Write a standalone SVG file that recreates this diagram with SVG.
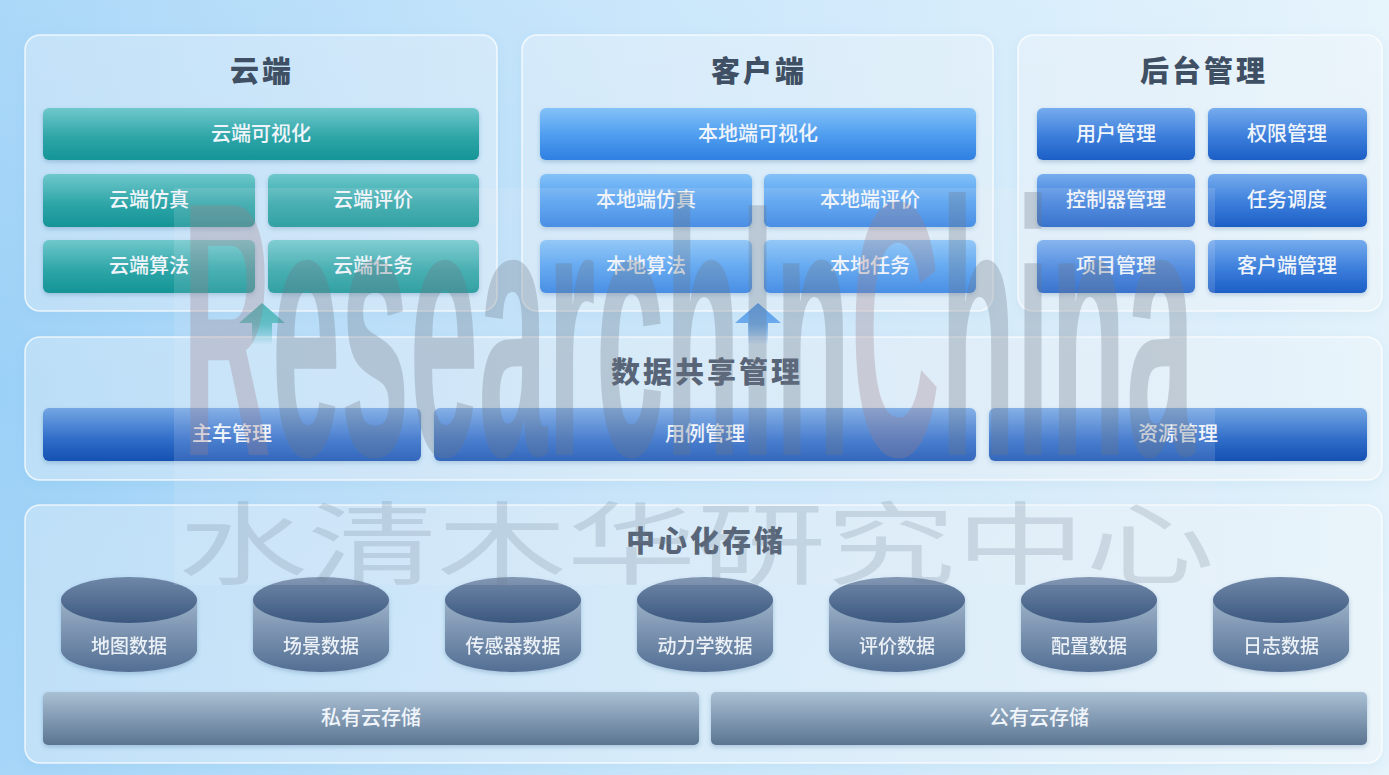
<svg xmlns="http://www.w3.org/2000/svg" width="1389" height="775" viewBox="0 0 1389 775">
<defs>
<linearGradient id="bg" x1="0" y1="0" x2="1" y2="0">
<stop offset="0" stop-color="#9cd1f7"/><stop offset="0.45" stop-color="#c0e2fa"/><stop offset="1" stop-color="#e2f2fb"/>
</linearGradient>
<linearGradient id="bgv" x1="0" y1="0" x2="0" y2="1">
<stop offset="0" stop-color="#ffffff" stop-opacity="0.15"/><stop offset="0.5" stop-color="#ffffff" stop-opacity="0"/><stop offset="1" stop-color="#ffffff" stop-opacity="0.1"/>
</linearGradient>
<linearGradient id="teal" x1="0" y1="0" x2="0" y2="1">
<stop offset="0" stop-color="#6fc8cc"/><stop offset="0.55" stop-color="#2fa6a8"/><stop offset="1" stop-color="#149496"/>
</linearGradient>
<linearGradient id="blue" x1="0" y1="0" x2="0" y2="1">
<stop offset="0" stop-color="#84c2f8"/><stop offset="0.5" stop-color="#519ff0"/><stop offset="1" stop-color="#2e7fe2"/>
</linearGradient>
<linearGradient id="navy" x1="0" y1="0" x2="0" y2="1">
<stop offset="0" stop-color="#76acee"/><stop offset="0.55" stop-color="#3b7ddb"/><stop offset="1" stop-color="#1c5fc6"/>
</linearGradient>
<linearGradient id="share" x1="0" y1="0" x2="0" y2="1">
<stop offset="0" stop-color="#74a6e4"/><stop offset="0.6" stop-color="#2f6cc8"/><stop offset="1" stop-color="#1551b2"/>
</linearGradient>
<linearGradient id="cylTop" x1="0" y1="0" x2="0" y2="1">
<stop offset="0" stop-color="#7088a8"/><stop offset="1" stop-color="#3b577f"/>
</linearGradient>
<linearGradient id="cylBody" x1="0" y1="0" x2="0" y2="1">
<stop offset="0" stop-color="#9cb1c8"/><stop offset="1" stop-color="#526e93"/>
</linearGradient>
<linearGradient id="stor" x1="0" y1="0" x2="0" y2="1">
<stop offset="0" stop-color="#aac0d4"/><stop offset="1" stop-color="#5a7491"/>
</linearGradient>
<linearGradient id="arT" x1="0" y1="0" x2="0" y2="1">
<stop offset="0" stop-color="#35aeb0"/><stop offset="0.5" stop-color="#35aeb0" stop-opacity="0.8"/><stop offset="1" stop-color="#35aeb0" stop-opacity="0"/>
</linearGradient>
<linearGradient id="arB" x1="0" y1="0" x2="0" y2="1">
<stop offset="0" stop-color="#3d8fe8"/><stop offset="0.5" stop-color="#3d8fe8" stop-opacity="0.8"/><stop offset="1" stop-color="#3d8fe8" stop-opacity="0"/>
</linearGradient>
<filter id="sh" x="-10%" y="-20%" width="120%" height="160%">
<feDropShadow dx="0" dy="2" stdDeviation="2" flood-color="#1f4f80" flood-opacity="0.25"/>
</filter>
<filter id="psh" x="-5%" y="-10%" width="110%" height="130%">
<feDropShadow dx="0" dy="3" stdDeviation="5" flood-color="#3a78b0" flood-opacity="0.15"/>
</filter>
</defs>
<style>
.panel{fill:#ffffff;fill-opacity:0.3;stroke:#ffffff;stroke-opacity:0.75;stroke-width:1.5}
.title{font-family:"Noto Sans CJK SC",sans-serif;font-weight:900;font-size:29px;fill:#3f4f64;text-anchor:middle;letter-spacing:3px}
.lbl{font-family:"Noto Sans CJK SC",sans-serif;font-weight:500;font-size:20px;fill:#f0f5fb;text-anchor:middle}
.clbl{font-family:"Noto Sans CJK SC",sans-serif;font-weight:500;font-size:19px;fill:#eaf0f6;text-anchor:middle}
.wm{font-family:"Liberation Sans",sans-serif;font-weight:bold;font-size:363px;fill:#6e7884;fill-opacity:0.3}
.wmc{font-family:"Noto Sans CJK SC",sans-serif;font-weight:400;font-size:90px;fill:#6f7f90;fill-opacity:0.22}
</style>

<rect x="0" y="0" width="1389" height="775" fill="url(#bg)"/>
<rect x="0" y="0" width="1389" height="775" fill="url(#bgv)"/>

<g id="panel-cloud">
<rect class="panel" x="25" y="35" width="472" height="276" rx="15" filter="url(#psh)"/>
<text class="title" x="262" y="82">云端</text>
</g>
<g id="panel-client">
<rect class="panel" x="522" y="35" width="471" height="276" rx="15" filter="url(#psh)"/>
<text class="title" x="759" y="82">客户端</text>
</g>
<g id="panel-backend">
<rect class="panel" x="1018" y="35" width="364" height="276" rx="15" filter="url(#psh)"/>
<text class="title" x="1204" y="82">后台管理</text>
</g>
<g id="panel-share">
<rect class="panel" x="25" y="337" width="1357" height="143" rx="15" filter="url(#psh)"/>
<text class="title" x="707" y="383">数据共享管理</text>
</g>
<g id="panel-storage">
<rect class="panel" x="25" y="505" width="1357" height="258" rx="15" filter="url(#psh)"/>
<text class="title" x="706" y="552">中心化存储</text>
</g>

<g id="cloud-vis"><rect x="43" y="108" width="436" height="52" rx="6" fill="url(#teal)" filter="url(#sh)"/><text class="lbl" x="261" y="141">云端可视化</text></g>
<g id="cloud-sim"><rect x="43" y="174" width="212" height="53" rx="6" fill="url(#teal)" filter="url(#sh)"/><text class="lbl" x="149" y="207">云端仿真</text></g>
<g id="cloud-eval"><rect x="268" y="174" width="211" height="53" rx="6" fill="url(#teal)" filter="url(#sh)"/><text class="lbl" x="373" y="207">云端评价</text></g>
<g id="cloud-algo"><rect x="43" y="240" width="212" height="53" rx="6" fill="url(#teal)" filter="url(#sh)"/><text class="lbl" x="149" y="273">云端算法</text></g>
<g id="cloud-task"><rect x="268" y="240" width="211" height="53" rx="6" fill="url(#teal)" filter="url(#sh)"/><text class="lbl" x="373" y="273">云端任务</text></g>

<g id="local-vis"><rect x="540" y="108" width="436" height="52" rx="6" fill="url(#blue)" filter="url(#sh)"/><text class="lbl" x="758" y="141">本地端可视化</text></g>
<g id="local-sim"><rect x="540" y="174" width="212" height="53" rx="6" fill="url(#blue)" filter="url(#sh)"/><text class="lbl" x="646" y="207">本地端仿真</text></g>
<g id="local-eval"><rect x="764" y="174" width="212" height="53" rx="6" fill="url(#blue)" filter="url(#sh)"/><text class="lbl" x="870" y="207">本地端评价</text></g>
<g id="local-algo"><rect x="540" y="240" width="212" height="53" rx="6" fill="url(#blue)" filter="url(#sh)"/><text class="lbl" x="646" y="273">本地算法</text></g>
<g id="local-task"><rect x="764" y="240" width="212" height="53" rx="6" fill="url(#blue)" filter="url(#sh)"/><text class="lbl" x="870" y="273">本地任务</text></g>

<g id="user-mgmt"><rect x="1037" y="108" width="158" height="52" rx="6" fill="url(#navy)" filter="url(#sh)"/><text class="lbl" x="1116" y="141">用户管理</text></g>
<g id="perm-mgmt"><rect x="1208" y="108" width="159" height="52" rx="6" fill="url(#navy)" filter="url(#sh)"/><text class="lbl" x="1287" y="141">权限管理</text></g>
<g id="ctrl-mgmt"><rect x="1037" y="174" width="158" height="53" rx="6" fill="url(#navy)" filter="url(#sh)"/><text class="lbl" x="1116" y="207">控制器管理</text></g>
<g id="task-sched"><rect x="1208" y="174" width="159" height="53" rx="6" fill="url(#navy)" filter="url(#sh)"/><text class="lbl" x="1287" y="207">任务调度</text></g>
<g id="proj-mgmt"><rect x="1037" y="240" width="158" height="53" rx="6" fill="url(#navy)" filter="url(#sh)"/><text class="lbl" x="1116" y="273">项目管理</text></g>
<g id="client-mgmt"><rect x="1208" y="240" width="159" height="53" rx="6" fill="url(#navy)" filter="url(#sh)"/><text class="lbl" x="1287" y="273">客户端管理</text></g>

<g id="connectors">
<path d="M262 303 L285 323 L272 323 L272 345 L252 345 L252 323 L239 323 Z" fill="url(#arT)"/>
<path d="M758 303 L781 323 L768 323 L768 345 L748 345 L748 323 L735 323 Z" fill="url(#arB)"/>
</g>

<g id="ego-mgmt"><rect x="43" y="408" width="378" height="53" rx="6" fill="url(#share)" filter="url(#sh)"/><text class="lbl" x="232" y="441">主车管理</text></g>
<g id="case-mgmt"><rect x="434" y="408" width="542" height="53" rx="6" fill="url(#share)" filter="url(#sh)"/><text class="lbl" x="705" y="441">用例管理</text></g>
<g id="res-mgmt"><rect x="989" y="408" width="378" height="53" rx="6" fill="url(#share)" filter="url(#sh)"/><text class="lbl" x="1178" y="441">资源管理</text></g>

<g id="db-map" filter="url(#sh)"><path d="M61 600 L61 650 A68 22 0 0 0 197 650 L197 600 Z" fill="url(#cylBody)"/><ellipse cx="129" cy="600" rx="68" ry="23" fill="url(#cylTop)"/><text class="clbl" x="129" y="653">地图数据</text></g>
<g id="db-scene" filter="url(#sh)"><path d="M253 600 L253 650 A68 22 0 0 0 389 650 L389 600 Z" fill="url(#cylBody)"/><ellipse cx="321" cy="600" rx="68" ry="23" fill="url(#cylTop)"/><text class="clbl" x="321" y="653">场景数据</text></g>
<g id="db-sensor" filter="url(#sh)"><path d="M445 600 L445 650 A68 22 0 0 0 581 650 L581 600 Z" fill="url(#cylBody)"/><ellipse cx="513" cy="600" rx="68" ry="23" fill="url(#cylTop)"/><text class="clbl" x="513" y="653">传感器数据</text></g>
<g id="db-dyn" filter="url(#sh)"><path d="M637 600 L637 650 A68 22 0 0 0 773 650 L773 600 Z" fill="url(#cylBody)"/><ellipse cx="705" cy="600" rx="68" ry="23" fill="url(#cylTop)"/><text class="clbl" x="705" y="653">动力学数据</text></g>
<g id="db-eval" filter="url(#sh)"><path d="M829 600 L829 650 A68 22 0 0 0 965 650 L965 600 Z" fill="url(#cylBody)"/><ellipse cx="897" cy="600" rx="68" ry="23" fill="url(#cylTop)"/><text class="clbl" x="897" y="653">评价数据</text></g>
<g id="db-conf" filter="url(#sh)"><path d="M1021 600 L1021 650 A68 22 0 0 0 1157 650 L1157 600 Z" fill="url(#cylBody)"/><ellipse cx="1089" cy="600" rx="68" ry="23" fill="url(#cylTop)"/><text class="clbl" x="1089" y="653">配置数据</text></g>
<g id="db-log" filter="url(#sh)"><path d="M1213 600 L1213 650 A68 22 0 0 0 1349 650 L1349 600 Z" fill="url(#cylBody)"/><ellipse cx="1281" cy="600" rx="68" ry="23" fill="url(#cylTop)"/><text class="clbl" x="1281" y="653">日志数据</text></g>

<g id="private-cloud"><rect x="43" y="692" width="656" height="53" rx="5" fill="url(#stor)" filter="url(#sh)"/><text class="lbl" x="371" y="725">私有云存储</text></g>
<g id="public-cloud"><rect x="711" y="692" width="656" height="53" rx="5" fill="url(#stor)" filter="url(#sh)"/><text class="lbl" x="1039" y="725">公有云存储</text></g>

<g id="watermark">
<rect x="174" y="188" width="1041" height="397" fill="#eef3f7" fill-opacity="0.14"/>
<text class="wm" x="182" y="455" textLength="1013" lengthAdjust="spacingAndGlyphs"><tspan fill="#9c7e88">R</tspan>esearchIn<tspan fill="#9c7e88">C</tspan>hina</text>
<text class="wmc" x="178" y="577" textLength="1037" lengthAdjust="spacingAndGlyphs">水清木华研究中心</text>
</g>
</svg>
